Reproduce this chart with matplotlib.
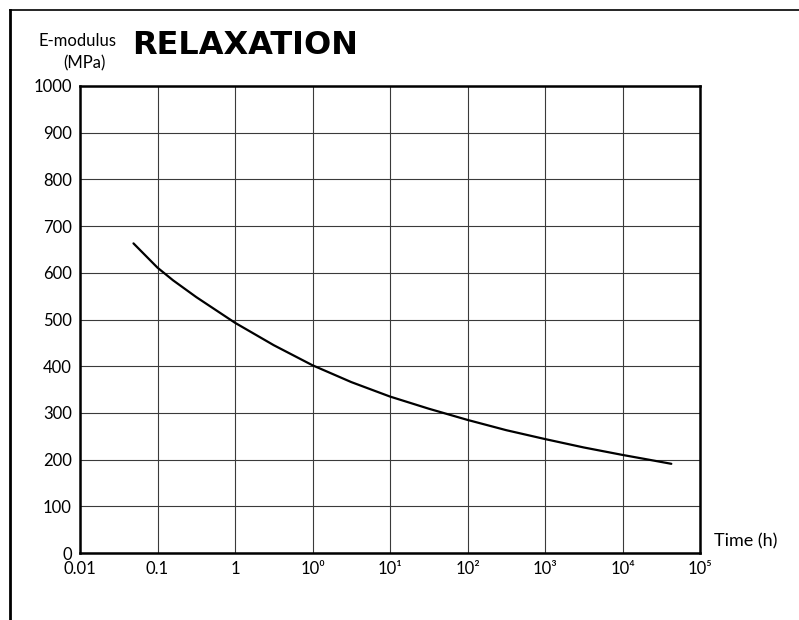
import matplotlib
matplotlib.use("Agg")
import matplotlib.pyplot as plt
from matplotlib.lines import Line2D

plt.rcParams['font.family'] = ['Lato', 'DejaVu Sans']

# tick labels on x (equally spaced decades)
x_labels = ["0.01", "0.1", "1", "10⁰", "10¹", "10²", "10³", "10⁴", "10⁵"]
y_ticks = [0, 100, 200, 300, 400, 500, 600, 700, 800, 900, 1000]

# relaxation curve (position in decades from 0.01, MPa)
curve_pos = [0.69, 1.0, 1.2, 1.5, 2.0, 2.5, 3.0, 3.5, 4.0, 4.5, 5.0, 5.5, 6.0, 6.5, 7.0, 7.3, 7.63]
curve_val = [663, 611, 584, 548, 493, 445, 402, 366, 335, 309, 285, 263, 244, 226, 210, 201, 191]

fig = plt.figure(figsize=(7.99, 6.2), dpi=100)
ax = fig.add_axes([80 / 799, 1 - 553 / 620, 620 / 799, 467 / 620])

ax.plot(curve_pos, curve_val, color="black", linewidth=1.6,
        solid_joinstyle="round", solid_capstyle="round")

ax.set_xlim(0, len(x_labels) - 1)
ax.set_ylim(0, 1000)
ax.set_xticks(range(len(x_labels)))
ax.set_xticklabels(x_labels)
ax.set_yticks(y_ticks)
ax.tick_params(length=0, labelsize=12, pad=6)
ax.grid(True, color="#3a3a3a", linewidth=0.8)
for s in ax.spines.values():
    s.set_linewidth(1.8)

# labels
fig.text(77 / 799, 1 - 41 / 620, "E-modulus", ha="center", va="center", fontsize=12)
fig.text(84 / 799, 1 - 63 / 620, "(MPa)", ha="center", va="center", fontsize=12)
fig.text(132 / 799, 1 - 46 / 620, "RELAXATION", ha="left", va="center",
         fontsize=23, fontweight="bold", family=["DejaVu Sans"])
fig.text(714 / 799, 1 - 541 / 620, "Time (h)", ha="left", va="center", fontsize=13)

# outer frame (top and left)
fig.add_artist(Line2D([10 / 799, 1], [1 - 10 / 620] * 2, color="black", linewidth=1.2))
fig.add_artist(Line2D([10 / 799] * 2, [0, 1 - 10 / 620], color="black", linewidth=2))

fig.savefig("out.png", dpi=100)
